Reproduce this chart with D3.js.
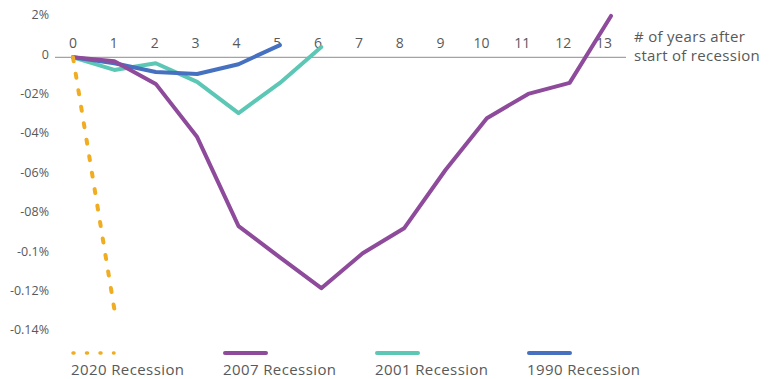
<!DOCTYPE html>
<html>
<head>
<meta charset="utf-8">
<script src="https://cdn.jsdelivr.net/npm/d3@7"></script>
<style>
  html, body { margin: 0; padding: 0; background: #fff; }
  svg text { font-family: "Open Sans", "Noto Sans", sans-serif; fill: #595959; }
</style>
</head>
<body>
<svg id="chart" width="769" height="379"></svg>
<script>
// Years after the start of each recession
const years = [0, 1, 2, 3, 4, 5, 6, 7, 8, 9, 10, 11, 12, 13];

// Change in percent for each recession, by year
const rec2020 = [0, -0.128];
const rec2007 = [0, -0.002, -0.0135, -0.0405, -0.0857, -0.1016, -0.1172, -0.0995, -0.0868, -0.0572, -0.0309, -0.0186, -0.013, 0.021];
const rec2001 = [0, -0.0064, -0.003, -0.0125, -0.0283, -0.013, 0.0052];
const rec1990 = [0, -0.003, -0.0075, -0.0085, -0.0035, 0.0062];

// Y tick values and their printed labels
const yTickValues = [0.02, 0, -0.02, -0.04, -0.06, -0.08, -0.1, -0.12, -0.14];
const yTickLabels = ["2%", "0", "-02%", "-04%", "-06%", "-08%", "-0.1%", "-0.12%", "-0.14%"];

const seriesNames = ["2020 Recession", "2007 Recession", "2001 Recession", "1990 Recession"];
const seriesColors = ["#F0AD22", "#8E4A9B", "#5CC7B5", "#4571C0"];

const series = [rec2020, rec2007, rec2001, rec1990];

const svg = d3.select("#chart");

const x = d3.scaleLinear().domain([0, 13]).range([73, 611]);
const xLabel = d3.scaleLinear().domain([0, 13]).range([73, 604]);
const y = d3.scaleLinear().domain([0.02, -0.14]).range([17.9, 333.1]);

// Y labels
svg.append("g").selectAll("text")
  .data(yTickValues)
  .join("text")
  .attr("x", 49)
  .attr("y", d => y(d) - 3)
  .attr("dy", "0.35em")
  .attr("text-anchor", "end")
  .style("font-size", "12.5px")
  .text((d, i) => yTickLabels[i]);

// Zero line
svg.append("line")
  .attr("x1", 55).attr("x2", 626)
  .attr("y1", y(0)).attr("y2", y(0))
  .attr("stroke", "#8c8c8c").attr("stroke-width", 1);

// X labels above the zero line
svg.append("g").selectAll("text")
  .data(years)
  .join("text")
  .attr("x", d => xLabel(d))
  .attr("y", 43)
  .attr("dy", "0.35em")
  .attr("text-anchor", "middle")
  .style("font-size", "14px")
  .text(d => d);

// Axis title
const title = svg.append("text")
  .attr("x", 634).attr("y", 36.5)
  .style("font-size", "15px")
  .style("letter-spacing", "0.3px");
title.append("tspan").attr("x", 634).attr("dy", "0.35em").text("# of years after");
title.append("tspan").attr("x", 634).attr("dy", "1.25em").text("start of recession");

const line = d3.line().x((d, i) => x(years[i])).y(d => y(d));

// Draw the older lines first so 2020 sits on top
const order = [2, 3, 1, 0];
order.forEach(k => {
  const p = svg.append("path")
    .datum(series[k])
    .attr("d", line)
    .attr("fill", "none")
    .attr("stroke", seriesColors[k])
    .attr("stroke-width", 4)
    .attr("stroke-linejoin", "round")
    .attr("stroke-linecap", "round");
  if (k === 0) p.attr("stroke-dasharray", "4,12.7");
});

// Legend
const legendX = [72, 224, 376, 528];
const lg = svg.append("g").selectAll("g")
  .data(seriesNames)
  .join("g")
  .attr("transform", (d, i) => `translate(${legendX[i]},0)`);

lg.append("line")
  .attr("x1", 1).attr("x2", 42)
  .attr("y1", 353).attr("y2", 353)
  .attr("stroke", (d, i) => seriesColors[i])
  .attr("stroke-width", (d, i) => i === 0 ? 3.5 : 4)
  .attr("stroke-linecap", "round")
  .attr("stroke-dasharray", (d, i) => i === 0 ? "1,12.5" : null);

lg.append("text")
  .attr("x", -1).attr("y", 374.5)
  .style("font-size", "15px")
  .style("letter-spacing", "0.4px")
  .text(d => d);
</script>
</body>
</html>
